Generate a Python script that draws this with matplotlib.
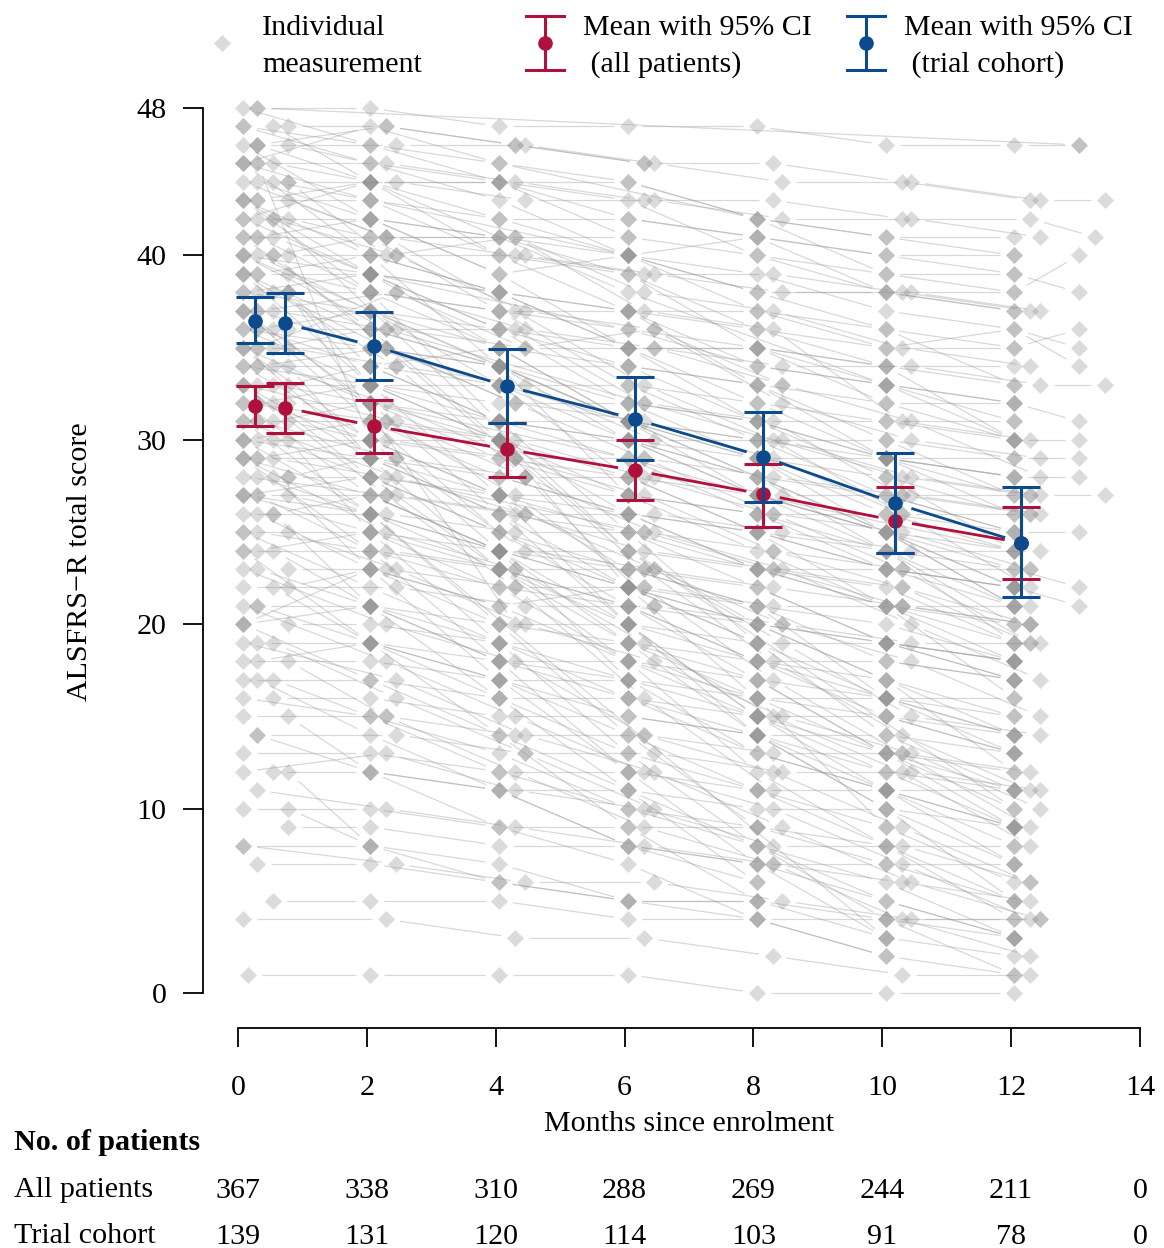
import numpy as np
import matplotlib
matplotlib.use("Agg")
import matplotlib.pyplot as plt
from matplotlib.collections import LineCollection
from matplotlib.transforms import blended_transform_factory

N = None

# group means with 95% CI
MEAN_MONTHS = [0.26, 0.73, 2.11, 4.17, 6.16, 8.15, 10.2, 12.16]
ALL_MEAN = [31.84, 31.75, 30.75, 29.49, 28.34, 27.05, 25.62, 24.42]
ALL_LO = [30.77, 30.36, 29.27, 27.97, 26.74, 25.26, 23.85, 22.45]
ALL_HI = [32.92, 33.07, 32.16, 30.93, 29.99, 28.68, 27.43, 26.34]
TRIAL_MEAN = [36.46, 36.32, 35.09, 32.92, 31.13, 29.09, 26.56, 24.42]
TRIAL_LO = [35.24, 34.70, 33.25, 30.93, 28.91, 26.65, 23.85, 21.46]
TRIAL_HI = [37.73, 37.95, 36.95, 34.95, 33.39, 31.53, 29.30, 27.43]

# numbers at risk
RISK_MONTHS = [0, 2, 4, 6, 8, 10, 12, 14]
RISK_ALL = [367, 338, 310, 288, 269, 244, 211, 0]
RISK_TRIAL = [139, 131, 120, 114, 103, 91, 78, 0]

# individual trajectories: score at baseline, then at visits 2,4,6,8,10,12,13 months
VISIT_MONTHS = [2, 4, 6, 8, 10, 12, 13]
SCORES = [
    [48, 48, 47, 47, 47, 46, 46, 46], [48, 46, 45, N, 42, 41, 40, N],
    [47, 47, 46, 45, 45, 44, 43, N], [47, 45, 43, 40, 38, 36, 33, N],
    [47, 44, N, 38, N, 33, 30, N], [46, 46, 46, 45, 44, 44, 43, 43],
    [46, 42, 39, 35, 31, 28, 24, N], [46, 45, 44, 44, 42, 41, 41, N],
    [45, 45, 44, 43, 43, 42, 42, 41], [45, 43, 40, 37, 33, 29, 26, N],
    [45, 44, 44, 42, 41, 40, 39, N], [45, 40, 34, 27, N, N, N, N],
    [44, 44, 43, 43, 42, 42, 41, N], [44, 42, 41, 39, 36, 34, 33, N],
    [44, 41, 37, 33, 30, 26, 22, N], [44, 43, N, 40, 39, 37, 36, 35],
    [43, 43, 42, 42, 41, 40, 40, N], [43, 40, 38, 35, 32, 29, 27, N],
    [43, 41, 41, 38, 37, 35, 34, N], [43, 38, 31, 25, 19, N, N, N],
    [42, 42, 41, 41, 40, 39, 39, 38], [42, 40, 37, 36, 33, 31, 28, N],
    [42, 39, 36, 32, 29, 25, 21, N], [42, 41, 41, 40, 38, 38, 37, N],
    [41, 41, 40, 39, 39, 38, 37, N], [41, 38, 35, 31, 28, 24, 21, N],
    [41, 39, 38, 37, 34, 33, 32, 31], [41, 36, 30, 22, 16, 9, N, N],
    [40, 40, 40, 39, 38, 38, 37, N], [40, 37, 34, 30, 27, 24, 20, N],
    [40, 39, N, 36, 35, 33, 32, N], [40, 35, 29, 23, 18, 14, 11, N],
    [39, 39, 38, 37, 37, 36, 35, 36], [39, 36, 34, 31, 29, 26, 24, N],
    [39, 38, 37, 36, 34, 33, 31, N], [39, 34, 28, 21, N, N, N, N],
    [38, 38, 37, 37, 36, 35, 35, N], [38, 35, 32, 29, 26, 23, 19, N],
    [38, 37, 35, 34, 33, 30, 29, 29], [38, 33, 27, 20, 14, 10, 5, N],
    [37, 37, 36, 35, 35, 34, 34, N], [37, 35, 33, 30, 28, 25, 23, N],
    [37, 36, N, 32, N, 28, 27, N], [37, 32, 26, 20, 15, N, N, N],
    [36, 36, 35, 35, 34, 34, 33, 33], [36, 34, 31, 29, 26, 23, 21, N],
    [36, 35, 34, 32, 31, 29, 28, N], [36, 31, 27, 22, 17, 13, 9, N],
    [35, 35, 34, 34, 33, 32, 32, N], [35, 32, 30, 27, 24, 21, 18, N],
    [35, 34, 33, 30, 30, 28, 27, 27], [35, 30, 24, 17, N, N, N, N],
    [34, 34, 33, 33, 32, 31, 31, N], [34, 32, 29, 27, 24, 22, 19, N],
    [34, 33, 31, 30, 28, 27, 25, N], [34, 29, 23, 18, 12, 8, 4, N],
    [33, 33, 32, 32, 31, 31, 30, 30], [33, 31, 28, 25, 23, 20, 17, N],
    [33, 32, N, 29, 27, N, 24, N], [33, 27, 22, 16, 11, N, N, N],
    [32, 32, 31, 31, 30, 29, 29, N], [32, 30, 27, 25, 22, 19, 17, N],
    [32, 31, 30, 28, 26, 25, 23, N], [32, 28, 23, 19, 14, 10, 7, N],
    [31, 31, 30, 30, 29, 29, 28, N], [31, 28, 26, 23, 20, 18, 15, N],
    [31, 30, 29, 27, 26, 24, 23, 22], [31, 26, 20, 14, 9, N, N, N],
    [30, 30, 29, 29, 28, 27, 27, N], [30, 28, 25, 22, 20, 17, 14, N],
    [30, 29, 28, 26, 25, 23, 22, N], [30, 25, 19, 13, 8, 4, 1, N],
    [29, 29, 28, 28, 27, 27, 26, N], [29, 27, 24, 22, 19, 16, 14, N],
    [29, 28, N, 25, 23, 22, 20, N], [29, 24, 18, 12, N, N, N, N],
    [28, 28, 27, 27, 26, 26, 25, 25], [28, 26, 23, 21, 18, 16, 13, N],
    [28, 27, 26, 24, 23, 21, 20, N], [28, 23, 17, 12, 7, 3, N, N],
    [27, 27, 26, 26, 25, 24, 24, N], [27, 25, 23, 20, 18, 15, 13, N],
    [27, 26, 24, 23, 21, 20, 18, N], [26, 26, 25, 25, 24, 23, 23, N],
    [26, 23, 21, 18, 16, 13, 11, N], [26, 21, 16, 11, 6, N, N, N],
    [25, 25, 24, 24, 23, 23, 22, N], [25, 23, 20, 18, 15, 13, 10, N],
    [25, 24, 23, 21, 20, 19, 17, N], [24, 24, 23, 23, 22, 21, 21, N],
    [24, 21, 19, 16, 13, 11, 8, N], [24, 19, 14, 9, 5, N, N, N],
    [23, 23, 22, 22, 21, 21, 20, N], [23, 21, 18, 16, 14, 11, 9, N],
    [22, 22, 21, 21, 20, 19, 19, N], [22, 19, 17, 14, 11, 9, 6, N],
    [21, 21, 20, 20, 19, 19, 18, N], [21, 18, 15, 12, 10, 7, 4, N],
    [20, 20, 19, 19, 18, 18, 17, N], [20, 17, 14, 11, 8, 5, 3, N],
    [19, 19, 18, 18, 17, 16, 16, N], [19, 16, 13, 10, N, N, N, N],
    [18, 18, 17, 17, 16, 16, 15, N], [18, 15, 12, 9, 7, 4, 2, N],
    [17, 17, 16, 16, 15, 15, 14, N], [17, 14, 11, 8, 6, N, N, N],
    [16, 16, 15, 15, 14, 14, 13, N], [15, 15, 14, 14, 13, 13, 12, N],
    [15, 12, 9, 7, 4, 2, N, N], [14, 14, 13, 13, 12, 12, 11, N],
    [13, 13, 12, 12, 11, 11, 11, N], [12, 12, 11, 11, 10, 10, 9, N],
    [11, 10, 9, 8, 7, 6, 5, N], [10, 10, 9, 9, 9, 8, 8, N],
    [9, 9, 8, 8, 7, 7, 7, N], [8, 7, 6, 6, 5, 4, 4, N],
    [7, 7, 6, 5, 5, 4, 3, N], [5, 5, 5, 4, 4, 4, 4, N],
    [4, 4, 3, 3, 2, 1, 1, N], [1, 1, 1, 1, 0, 0, 0, N],
    [45, 30, N, N, N, N, N, N], [38, N, 20, N, N, N, N, N],
    [27, 26, N, N, N, 3, N, N], [42, N, N, 24, N, N, 10, N],
    [35, 38, 36, 35, 33, N, N, N], [20, 23, 21, 22, 20, 19, 18, N],
    [12, 8, N, N, N, N, N, N], [46, 47, 46, 45, N, N, N, N],
    [40, N, N, N, N, N, 22, 21], [48, N, N, N, N, N, N, 46],
    [47, 46, 44, 41, N, N, N, N], [46, 44, 44, 43, 40, 38, 38, N],
    [45, 47, 45, 44, 42, 39, 38, 40], [44, 40, 41, 37, 36, 31, 30, N],
    [43, 44, 42, 40, 41, 38, 37, N], [43, 39, 35, N, N, N, N, N],
    [42, 44, 40, 39, 35, 34, 30, N], [41, 42, 39, 40, 37, 35, 36, 34],
    [40, 41, 37, 33, 30, 30, 27, N], [40, 36, 36, 32, 31, 27, 26, N],
    [39, 40, 38, 35, 35, 32, 30, N], [39, 33, 30, 24, 20, 17, 12, N],
    [38, 39, 36, 34, 31, 29, 28, 28], [38, 34, 35, 31, 27, 25, 22, N],
    [37, 38, 35, 36, 32, 30, 29, N], [37, 31, 25, 21, 17, 13, 10, N],
    [36, 37, 33, 31, 30, 27, 25, N], [36, 33, 33, 28, 25, 24, 19, N],
    [35, 36, 34, 31, 29, 28, 26, N], [35, 29, 26, 22, 19, 14, 11, N],
    [34, 35, 32, 31, 29, 26, 26, N], [34, 30, 30, 26, 23, 21, 16, N],
    [33, 34, 31, 30, 27, 25, 24, N], [33, 29, 27, 23, 21, 16, 14, N],
    [32, 33, 30, 28, 27, 25, 21, N], [32, 27, 24, 20, 15, 12, 9, N],
    [31, 32, 29, 28, 25, 23, 22, N], [31, 29, 24, 23, 19, 15, 14, N],
    [30, 31, 28, 26, 25, 21, 20, N], [30, 26, 24, 19, 17, 13, 9, N],
    [29, 30, 27, 26, 23, 22, 19, N], [29, 25, 23, 19, 15, 12, 8, N],
    [28, 29, 26, 25, 23, 21, 19, N], [27, 24, 22, 18, 15, 11, 9, N],
    [27, 28, 25, 23, 22, 19, 18, N], [26, 27, 24, 22, 21, 18, 17, N],
    [25, 22, 19, 17, 13, 11, 7, N], [24, 25, 22, 21, 18, 17, 15, N],
    [23, 20, 18, 14, 12, 9, 6, N], [22, 23, 20, 19, 16, 15, 13, N],
    [21, 19, 16, 13, 11, 8, 5, N], [20, 21, 18, 17, 15, 13, 12, N],
    [19, 17, 14, 12, 9, 6, 4, N], [18, 19, 17, 15, 14, 12, 11, N],
    [17, 15, 13, 10, 8, 6, 3, N], [16, 15, 12, 10, 9, 7, 5, N],
    [14, 12, 11, 8, 7, 5, 3, N], [12, 13, 11, 10, 8, 8, 6, N],
    [10, 8, 6, 5, 4, 2, 1, N], [8, 8, 7, 5, 5, 3, 2, N],
]
# month of the baseline visit and the lag of later visits, per patient
BASE_MONTH = [
    0.30, 0.08, 0.78, 0.08, 0.55, 0.30, 0.08, 0.78, 0.30, 0.08,
    0.55, 0.08, 0.78, 0.30, 0.08, 0.55, 0.30, 0.08, 0.78, 0.08,
    0.30, 0.55, 0.08, 0.78, 0.08, 0.30, 0.55, 0.08, 0.78, 0.30,
    0.08, 0.55, 0.30, 0.08, 0.78, 0.08, 0.30, 0.55, 0.08, 0.78,
    0.08, 0.30, 0.55, 0.08, 0.78, 0.30, 0.08, 0.55, 0.30, 0.08,
    0.78, 0.08, 0.30, 0.55, 0.08, 0.78, 0.30, 0.08, 0.55, 0.08,
    0.78, 0.30, 0.08, 0.55, 0.30, 0.08, 0.78, 0.08, 0.30, 0.55,
    0.08, 0.78, 0.30, 0.08, 0.55, 0.08, 0.78, 0.30, 0.08, 0.55,
    0.30, 0.08, 0.78, 0.08, 0.30, 0.55, 0.08, 0.78, 0.30, 0.08,
    0.55, 0.08, 0.78, 0.30, 0.08, 0.55, 0.30, 0.08, 0.78, 0.08,
    0.30, 0.55, 0.08, 0.78, 0.08, 0.30, 0.55, 0.08, 0.78, 0.30,
    0.08, 0.55, 0.30, 0.08, 0.78, 0.08, 0.30, 0.55, 0.08, 0.15,
    0.30, 0.78, 0.08, 0.55, 0.30, 0.08, 0.78, 0.30, 0.08, 0.30,
    0.08, 0.30, 0.08, 0.78, 0.30, 0.08, 0.08, 0.30, 0.55, 0.08,
    0.30, 0.08, 0.08, 0.78, 0.30, 0.08, 0.30, 0.08, 0.55, 0.08,
    0.30, 0.08, 0.78, 0.08, 0.30, 0.08, 0.55, 0.30, 0.08, 0.08,
    0.30, 0.08, 0.78, 0.30, 0.08, 0.55, 0.08, 0.30, 0.08, 0.78,
    0.30, 0.08, 0.08, 0.30, 0.55, 0.08, 0.30, 0.08, 0.78, 0.08,
]
VISIT_LAG = [
    0.05, 0.05, 0.30, 0.05, 0.05, 0.45, 0.05, 0.05, 0.30, 0.05,
    0.05, 0.05, 0.45, 0.05, 0.30, 0.05, 0.05, 0.05, 0.30, 0.05,
    0.05, 0.45, 0.05, 0.05, 0.30, 0.05, 0.05, 0.05, 0.45, 0.05,
    0.05, 0.30, 0.05, 0.05, 0.05, 0.45, 0.05, 0.30, 0.05, 0.05,
    0.05, 0.05, 0.30, 0.05, 0.45, 0.05, 0.05, 0.30, 0.05, 0.05,
    0.45, 0.05, 0.05, 0.30, 0.05, 0.05, 0.05, 0.45, 0.05, 0.30,
    0.05, 0.05, 0.30, 0.05, 0.05, 0.45, 0.05, 0.05, 0.30, 0.05,
    0.05, 0.05, 0.45, 0.05, 0.30, 0.05, 0.05, 0.05, 0.30, 0.05,
    0.45, 0.05, 0.05, 0.30, 0.05, 0.05, 0.05, 0.45, 0.05, 0.30,
    0.05, 0.05, 0.30, 0.05, 0.45, 0.05, 0.05, 0.30, 0.05, 0.05,
    0.05, 0.45, 0.05, 0.30, 0.05, 0.05, 0.05, 0.30, 0.05, 0.45,
    0.05, 0.05, 0.30, 0.05, 0.05, 0.45, 0.05, 0.05, 0.30, 0.05,
    0.05, 0.30, 0.05, 0.05, 0.45, 0.05, 0.05, 0.30, 0.05, 0.05,
    0.05, 0.05, 0.05, 0.30, 0.05, 0.05, 0.05, 0.05, 0.05, 0.30,
    0.05, 0.05, 0.05, 0.05, 0.45, 0.05, 0.05, 0.05, 0.05, 0.05,
    0.30, 0.05, 0.05, 0.05, 0.05, 0.05, 0.05, 0.45, 0.05, 0.05,
    0.05, 0.30, 0.05, 0.05, 0.05, 0.05, 0.05, 0.05, 0.30, 0.05,
    0.05, 0.05, 0.45, 0.05, 0.05, 0.05, 0.05, 0.30, 0.05, 0.05,
]

RED = "#B0103C"
BLUE = "#0C4A8E"
PT_COL = "#8a8a8a"
LN_COL = "#9a9a9a"
FS = 21.6
plt.rcParams["font.family"] = ["Liberation Serif", "DejaVu Serif"]
plt.rcParams["font.size"] = FS

W, H = 1164, 1248
fig = plt.figure(figsize=(W / 100, H / 100), dpi=100)
ax = fig.add_axes([203 / W, (H - 1028) / H, (1150 - 203) / W, (1028 - 95) / H])
ax.set_xlim(-0.543, 14.155)
ax.set_ylim(-1.898, 48.705)
for s in ("top", "right"):
    ax.spines[s].set_visible(False)
ax.spines["left"].set_bounds(0, 48)
ax.spines["bottom"].set_bounds(0, 14)
for s in ("left", "bottom"):
    ax.spines[s].set_linewidth(1.3)
ax.set_yticks([0, 10, 20, 30, 40, 48])
ax.set_xticks(RISK_MONTHS)
ax.tick_params(axis="y", length=14.4, width=1.3, pad=12, labelsize=FS)
ax.tick_params(axis="x", length=14, width=1.3, pad=20, labelsize=FS)

inv = ax.transData.inverted()


def gapped(xs, ys, gap=16):
    # R type="b": segments stop short of each point
    pts = ax.transData.transform(np.column_stack([xs, ys]))
    segs = []
    for p, q in zip(pts[:-1], pts[1:]):
        d = q - p
        L = np.hypot(*d)
        if L <= 2 * gap:
            continue
        u = d / L
        segs.append(inv.transform(np.vstack([p + u * gap, q - u * gap])))
    return segs


# individual measurements
all_x, all_y, segs = [], [], []
for t0, lag, row in zip(BASE_MONTH, VISIT_LAG, SCORES):
    ts = [t0] + [v + lag for v in VISIT_MONTHS]
    xs = [t for t, v in zip(ts, row) if v is not None]
    ys = [v for v in row if v is not None]
    all_x += xs
    all_y += ys
    if len(xs) > 1:
        segs += gapped(xs, ys, gap=14)
ax.add_collection(LineCollection(segs, colors=LN_COL, alpha=0.38, linewidths=0.9, zorder=1))
ax.scatter(all_x, all_y, marker="D", s=75, color=PT_COL, alpha=0.3, linewidths=0, zorder=2)

# means with CI
for mean, lo, hi, col, z in ((ALL_MEAN, ALL_LO, ALL_HI, RED, 4), (TRIAL_MEAN, TRIAL_LO, TRIAL_HI, BLUE, 6)):
    m = np.array(mean)
    err = np.vstack([m - np.array(lo), np.array(hi) - m])
    ax.add_collection(LineCollection(gapped(MEAN_MONTHS, mean, gap=17), colors=col, linewidths=2.0, zorder=z))
    ax.errorbar(MEAN_MONTHS, mean, yerr=err, fmt="o", color=col, ms=9.5, elinewidth=2.2,
                capsize=13.5, capthick=2.2, zorder=z + 1)

ax.set_ylabel("ALSFRS\u2212R total score", fontsize=FS, labelpad=31)

# overlay in pixel coordinates for legend and risk table
ov = fig.add_axes([0, 0, 1, 1], facecolor="none")
ov.set_xlim(0, W)
ov.set_ylim(H, 0)
ov.axis("off")

ov.scatter([222], [43], marker="D", s=75, color=PT_COL, alpha=0.3, linewidths=0)
ov.text(262, 28, "Individual", va="center", ha="left", fontsize=FS)
ov.text(262, 65, "measurement", va="center", ha="left", fontsize=FS)
for x0, col, line2 in ((545, RED, " (all patients)"), (866, BLUE, " (trial cohort)")):
    ov.plot([x0, x0], [16, 70], color=col, lw=2.2)
    ov.plot([x0 - 19, x0 + 19], [16, 16], color=col, lw=2.2)
    ov.plot([x0 - 19, x0 + 19], [70, 70], color=col, lw=2.2)
    ov.plot([x0], [43], "o", color=col, ms=9.5)
    ov.text(x0 + 38, 28, "Mean with 95% CI", va="center", ha="left", fontsize=FS)
    ov.text(x0 + 38, 65, line2, va="center", ha="left", fontsize=FS)

ov.text(689, 1124, "Months since enrolment", va="center", ha="center", fontsize=FS)
ov.text(14, 1143, "No. of patients", va="center", ha="left", fontsize=FS, fontweight="bold")
ov.text(14, 1190, "All patients", va="center", ha="left", fontsize=FS)
ov.text(14, 1236, "Trial cohort", va="center", ha="left", fontsize=FS)

tr = blended_transform_factory(ax.transData, ov.transData)
for m, a, t in zip(RISK_MONTHS, RISK_ALL, RISK_TRIAL):
    ov.text(m, 1191, str(a), transform=tr, va="center", ha="center", fontsize=FS)
    ov.text(m, 1237, str(t), transform=tr, va="center", ha="center", fontsize=FS)

fig.savefig("out.png", dpi=100)
